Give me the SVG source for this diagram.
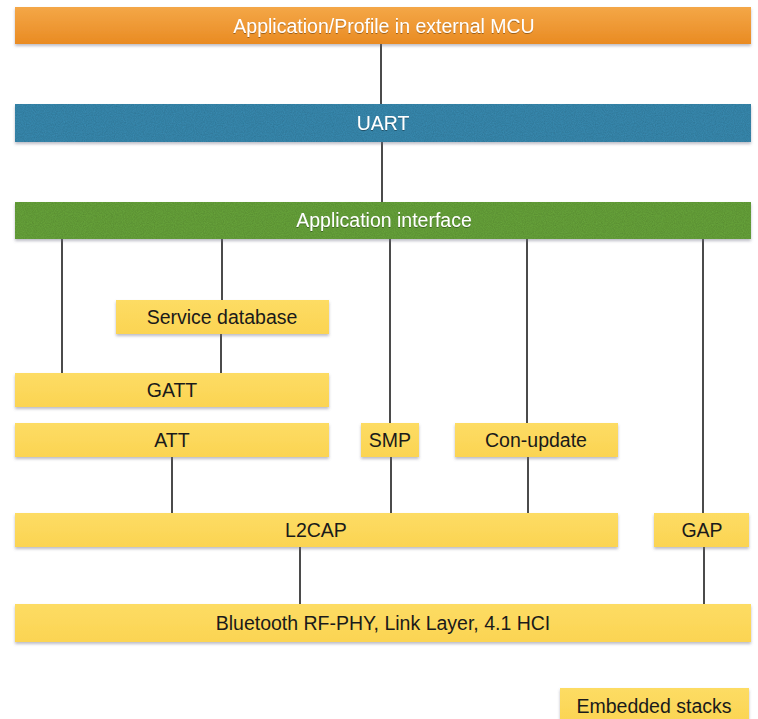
<svg xmlns="http://www.w3.org/2000/svg" width="758" height="719" viewBox="0 0 758 719">
  <defs>
    <linearGradient id="gOrange" x1="0" y1="0" x2="0" y2="1">
      <stop offset="0" stop-color="#f4a747"/>
      <stop offset="1" stop-color="#e98b23"/>
    </linearGradient>
    <linearGradient id="gYellow" x1="0" y1="0" x2="0" y2="1">
      <stop offset="0" stop-color="#fddc64"/>
      <stop offset="1" stop-color="#fbd452"/>
    </linearGradient>
    <filter id="shadow" x="-5%" y="-20%" width="110%" height="160%">
      <feDropShadow dx="0" dy="2" stdDeviation="1.5" flood-color="#6a6a80" flood-opacity="0.45"/>
    </filter>
    <filter id="noisy" x="-5%" y="-20%" width="110%" height="160%">
      <feTurbulence type="fractalNoise" baseFrequency="0.9" numOctaves="2" seed="3" result="n"/>
      <feColorMatrix in="n" type="matrix" values="0 0 0 0 0  0 0 0 0 0  0 0 0 0 0  0 0 0 0.35 0" result="nm"/>
      <feComposite in="nm" in2="SourceGraphic" operator="in" result="nc"/>
      <feMerge result="tex"><feMergeNode in="SourceGraphic"/><feMergeNode in="nc"/></feMerge>
      <feDropShadow in="tex" dx="0" dy="2" stdDeviation="1.5" flood-color="#6a6a80" flood-opacity="0.45"/>
    </filter>
    <filter id="tshadow" x="-10%" y="-30%" width="120%" height="160%">
      <feDropShadow dx="0" dy="1" stdDeviation="0.6" flood-color="#000" flood-opacity="0.35"/>
    </filter>
  </defs>
  <style>
    .lbl { font-family: "Liberation Sans", Arial, sans-serif; font-size: 19.5px; text-anchor: middle; fill: #1a1a1a; }
    .wlbl { font-family: "Liberation Sans", Arial, sans-serif; font-size: 19.5px; text-anchor: middle; fill: #ffffff; filter: url(#tshadow); }
    .ybox { fill: url(#gYellow); filter: url(#shadow); }
    .conn line { stroke: #1e1e1e; stroke-width: 1.6; }
  </style>
  <rect width="758" height="719" fill="#ffffff"/>

  <g id="connectors" class="conn">
    <line x1="381" y1="44" x2="381" y2="104"/>
    <line x1="382" y1="142" x2="382" y2="202"/>
    <line x1="62" y1="238" x2="62" y2="373"/>
    <line x1="222" y1="238" x2="222" y2="300"/>
    <line x1="221" y1="334" x2="221" y2="373"/>
    <line x1="390" y1="238" x2="390" y2="423"/>
    <line x1="527" y1="238" x2="527" y2="423"/>
    <line x1="703" y1="238" x2="703" y2="513"/>
    <line x1="172" y1="457" x2="172" y2="513"/>
    <line x1="391" y1="457" x2="391" y2="513"/>
    <line x1="528" y1="457" x2="528" y2="513"/>
    <line x1="300" y1="547" x2="300" y2="604"/>
    <line x1="704" y1="547" x2="704" y2="604"/>
  </g>

  <g id="app-profile">
    <rect x="15" y="7" width="736" height="37" fill="url(#gOrange)" filter="url(#shadow)"/>
    <text class="wlbl" x="384" y="32.5">Application/Profile in external MCU</text>
  </g>
  <g id="uart">
    <rect x="15" y="104" width="736" height="38" fill="#3b8db4" filter="url(#noisy)"/>
    <text class="wlbl" x="383" y="130">UART</text>
  </g>
  <g id="app-interface">
    <rect x="15" y="202" width="736" height="37" fill="#6aa73e" filter="url(#noisy)"/>
    <text class="wlbl" x="384" y="227">Application interface</text>
  </g>
  <g id="service-db">
    <rect class="ybox" x="116" y="300" width="213" height="34"/>
    <text class="lbl" x="222" y="324">Service database</text>
  </g>
  <g id="gatt">
    <rect class="ybox" x="15" y="373" width="314" height="34"/>
    <text class="lbl" x="172" y="397">GATT</text>
  </g>
  <g id="att">
    <rect class="ybox" x="15" y="423" width="314" height="34"/>
    <text class="lbl" x="172" y="447">ATT</text>
  </g>
  <g id="smp">
    <rect class="ybox" x="361" y="423" width="58" height="34"/>
    <text class="lbl" x="390" y="447">SMP</text>
  </g>
  <g id="con-update">
    <rect class="ybox" x="455" y="423" width="163" height="34"/>
    <text class="lbl" x="536" y="447">Con-update</text>
  </g>
  <g id="l2cap">
    <rect class="ybox" x="15" y="513" width="603" height="34"/>
    <text class="lbl" x="316" y="537">L2CAP</text>
  </g>
  <g id="gap">
    <rect class="ybox" x="654" y="513" width="95" height="34"/>
    <text class="lbl" x="702" y="537">GAP</text>
  </g>
  <g id="bluetooth">
    <rect class="ybox" x="15" y="604" width="736" height="38"/>
    <text class="lbl" x="383" y="630">Bluetooth RF-PHY, Link Layer, 4.1 HCI</text>
  </g>
  <g id="embedded">
    <rect class="ybox" x="560" y="688" width="189" height="36"/>
    <text class="lbl" x="654" y="713">Embedded stacks</text>
  </g>
</svg>
